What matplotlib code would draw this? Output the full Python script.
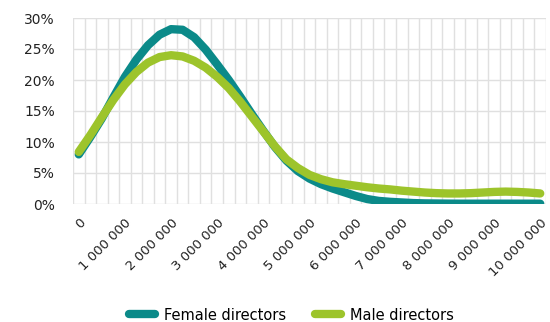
import matplotlib
matplotlib.use("Agg")
import matplotlib.pyplot as plt

# Datos: ingresos en pasos de 250 000, proporción (%) por grupo
ingresos = list(range(0, 10000001, 250000))
mujeres = [8.0, 10.8, 13.8, 17.2, 20.5, 23.3, 25.6, 27.3, 28.2, 28.1,
           26.9, 24.9, 22.5, 20.0, 17.3, 14.5, 11.8, 9.2, 7.0, 5.3,
           4.1, 3.2, 2.5, 1.9, 1.3, 0.8, 0.5, 0.35, 0.25, 0.15,
           0.1, 0.08, 0.06, 0.05, 0.05, 0.05, 0.05, 0.05, 0.05, 0.05, 0.05]
hombres = [8.4, 11.1, 14.0, 16.8, 19.3, 21.3, 22.8, 23.7, 24.0, 23.8,
           23.1, 22.0, 20.5, 18.7, 16.5, 14.1, 11.7, 9.3, 7.2, 5.8,
           4.7, 4.0, 3.5, 3.2, 2.95, 2.7, 2.5, 2.35, 2.15, 2.0,
           1.85, 1.75, 1.7, 1.7, 1.75, 1.85, 1.95, 2.0, 1.95, 1.85, 1.7]
etiquetasY = ["0%", "5%", "10%", "15%", "20%", "25%", "30%"]

plt.rcParams['font.family'] = ['DejaVu Sans']

fig = plt.figure(figsize=(5.5, 3.22), dpi=100)
ax = fig.add_axes([73/550, 1-204/322, 473/550, 186/322])

x = list(range(len(ingresos)))
ax.plot(x, mujeres, color='#0b8a89', lw=6, solid_capstyle='round', solid_joinstyle='round', label='Female directors')
ax.plot(x, hombres, color='#9dc42b', lw=6, solid_capstyle='round', solid_joinstyle='round', label='Male directors')

ax.set_xlim(-0.5, len(x) - 0.5)
ax.set_ylim(0, 30)

# Rejilla estilo Excel
for xi in range(len(x) + 1):
    ax.axvline(xi - 0.5, color='#e0e0e0', lw=1, zorder=0)
for yv in range(0, 31, 5):
    ax.axhline(yv, color='#e0e0e0', lw=1, zorder=0)

for s in ax.spines.values():
    s.set_visible(False)

ax.set_yticks(range(0, 31, 5))
ax.set_yticklabels(etiquetasY, fontsize=10, color='#222222')
pos = [i for i in x if ingresos[i] % 1000000 == 0]
ax.set_xticks(pos)
ax.set_xticklabels(["{:,}".format(ingresos[i]).replace(",", " ") for i in pos],
                   rotation=45, ha='right', rotation_mode='anchor', fontsize=9.5, color='#222222')
ax.tick_params(axis='y', length=0, pad=13)
ax.tick_params(axis='x', length=0, pad=9)

fig.legend(loc='center', bbox_to_anchor=(0.53, 1-315/322), ncol=2, frameon=False,
           fontsize=10.5, handlelength=1.8, columnspacing=2.0, handletextpad=0.6)

fig.savefig("out.png", dpi=100)
